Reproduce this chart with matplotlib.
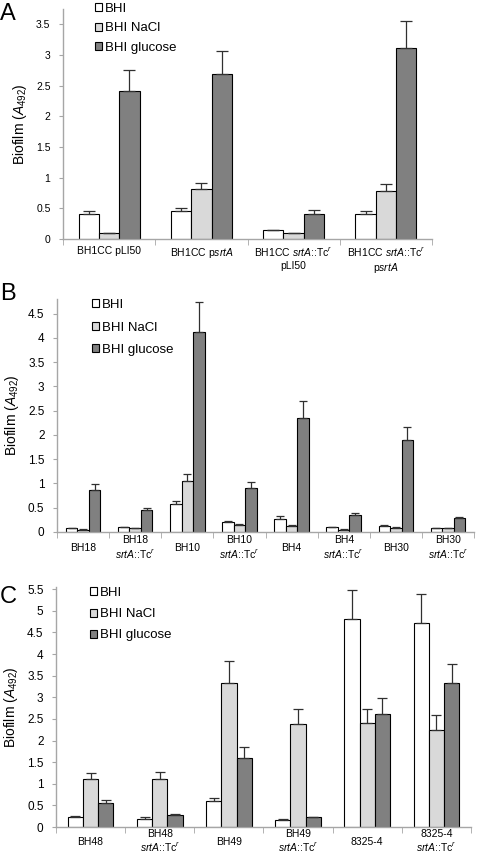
import numpy as np
import matplotlib
matplotlib.use('Agg')
import matplotlib.pyplot as plt
from matplotlib.patches import Patch

plt.rcParams['font.family'] = ['Liberation Sans', 'DejaVu Sans']
plt.rcParams['mathtext.fontset'] = 'custom'
plt.rcParams['mathtext.rm'] = 'Liberation Sans'
plt.rcParams['mathtext.it'] = 'Liberation Sans:italic'

#####################################################################
# DATA
#####################################################################

seriesNames = ['BHI', 'BHI NaCl', 'BHI glucose']

labelsA = ['BH1CC pLI50', 'BH1CC p$\\mathit{srtA}$',
           'BH1CC $\\mathit{srtA}$::Tc$^{r}$\npLI50',
           'BH1CC $\\mathit{srtA}$::Tc$^{r}$\np$\\mathit{srtA}$']
bhiA = [0.40, 0.45, 0.14, 0.40]
naclA = [0.10, 0.81, 0.10, 0.78]
glucA = [2.42, 2.69, 0.41, 3.11]
bhiErrA = [0.06, 0.06, 0.005, 0.06]
naclErrA = [0.005, 0.11, 0.005, 0.11]
glucErrA = [0.34, 0.38, 0.06, 0.45]

labelsB = ['BH18', 'BH18\n$\\mathit{srtA}$::Tc$^{r}$', 'BH10',
           'BH10\n$\\mathit{srtA}$::Tc$^{r}$', 'BH4',
           'BH4\n$\\mathit{srtA}$::Tc$^{r}$', 'BH30',
           'BH30\n$\\mathit{srtA}$::Tc$^{r}$']
bhiB = [0.08, 0.10, 0.57, 0.20, 0.26, 0.10, 0.13, 0.08]
naclB = [0.05, 0.08, 1.05, 0.15, 0.12, 0.05, 0.09, 0.08]
glucB = [0.86, 0.45, 4.11, 0.90, 2.35, 0.34, 1.89, 0.28]
bhiErrB = [0.005, 0.005, 0.07, 0.02, 0.06, 0.005, 0.005, 0.005]
naclErrB = [0.005, 0.005, 0.14, 0.005, 0.03, 0.005, 0.005, 0.005]
glucErrB = [0.12, 0.04, 0.62, 0.14, 0.35, 0.05, 0.28, 0.03]

labelsC = ['BH48', 'BH48\n$\\mathit{srtA}$::Tc$^{r}$', 'BH49',
           'BH49\n$\\mathit{srtA}$::Tc$^{r}$', '8325-4',
           '8325-4\n$\\mathit{srtA}$::Tc$^{r}$']
bhiC = [0.22, 0.19, 0.61, 0.17, 4.81, 4.71]
naclC = [1.10, 1.12, 3.33, 2.38, 2.41, 2.25]
glucC = [0.56, 0.27, 1.60, 0.22, 2.62, 3.32]
bhiErrC = [0.03, 0.03, 0.05, 0.02, 0.68, 0.67]
naclErrC = [0.16, 0.16, 0.50, 0.34, 0.33, 0.33]
glucErrC = [0.07, 0.02, 0.24, 0.005, 0.36, 0.45]

#####################################################################
# HELPERS
#####################################################################

COLORS = ['#ffffff', '#d9d9d9', '#808080']
AXISGRAY = '#a6a6a6'
BARW = 0.22

def drawPanel(ax, labels, values, errors, yMax, yTop, capsize, ytickSize, labelVa, labelPad):
	n = len(labels)
	x = np.arange(n)
	for k in range(3):
		err = [np.zeros(n), errors[k]]
		ax.bar(x + (k - 1) * BARW, values[k], BARW, color=COLORS[k],
			edgecolor='black', linewidth=0.8, label=seriesNames[k],
			yerr=err, error_kw=dict(ecolor='#303030', elinewidth=0.9,
			capsize=capsize, capthick=0.9))
	ax.set_xlim(-0.5, n - 0.5)
	ax.set_ylim(0, yTop)
	ticks = np.arange(0, yMax + 0.01, 0.5)
	ax.set_yticks(ticks)
	ax.set_yticklabels(['{:g}'.format(v) for v in ticks])
	ax.set_xticks(x)
	ax.set_xticklabels(labels, fontsize=7.5, linespacing=1.2, va=labelVa)
	ax.set_xticks(np.arange(-0.5, n, 1.0), minor=True)
	ax.tick_params(axis='x', which='major', length=0, pad=labelPad)
	ax.tick_params(axis='x', which='minor', length=4, color=AXISGRAY, direction='out')
	ax.tick_params(axis='y', length=3, color=AXISGRAY, labelsize=ytickSize, pad=6)
	for side in ['top', 'right']:
		ax.spines[side].set_visible(False)
	for side in ['left', 'bottom']:
		ax.spines[side].set_color(AXISGRAY)
		ax.spines[side].set_linewidth(1.0)
	ax.set_ylabel('Biofilm ($\\mathit{A}_{\\mathit{492}}$)', fontsize=10, labelpad=5)

def drawLegend(fig, x, y, spacing):
	handles = [Patch(facecolor=COLORS[k], edgecolor='black', linewidth=0.8)
		for k in range(3)]
	fig.legend(handles, seriesNames, loc='upper left', bbox_to_anchor=(x, y),
		bbox_transform=fig.transFigure, frameon=False, fontsize=9.5,
		handlelength=0.55, handleheight=0.55, handletextpad=0.2,
		labelspacing=spacing, borderpad=0, borderaxespad=0)

#####################################################################
# SETUP
#####################################################################

W, H = 478.0, 856.0
fig = plt.figure(figsize=(4.78, 8.56), dpi=100)

axA = fig.add_axes([63 / W, 1 - 239 / H, 369 / W, 230 / H])
axB = fig.add_axes([57 / W, 1 - 532 / H, 417 / W, 233 / H])
axC = fig.add_axes([56 / W, 1 - 827 / H, 415 / W, 240 / H])

drawPanel(axA, labelsA, [bhiA, naclA, glucA], [bhiErrA, naclErrA, glucErrA],
	3.5, 3.75, 4, 7.5, 'top', 5)
drawPanel(axB, labelsB, [bhiB, naclB, glucB], [bhiErrB, naclErrB, glucErrB],
	4.5, 4.8, 3, 8.5, 'center', 11.5)
drawPanel(axC, labelsC, [bhiC, naclC, glucC], [bhiErrC, naclErrC, glucErrC],
	5.5, 5.55, 3.5, 8.5, 'center', 10.5)

drawLegend(fig, 95 / W, 1 - 3 / H, 0.55)
drawLegend(fig, 92 / W, 1 - 299 / H, 0.8)
drawLegend(fig, 90 / W, 1 - 587 / H, 0.7)

fig.text(0 / W, 1 - 3 / H, 'A', fontsize=17, va='top', ha='left')
fig.text(0 / W, 1 - 283 / H, 'B', fontsize=17, va='top', ha='left')
fig.text(0 / W, 1 - 586 / H, 'C', fontsize=17, va='top', ha='left')

fig.savefig('out.png', dpi=100)
